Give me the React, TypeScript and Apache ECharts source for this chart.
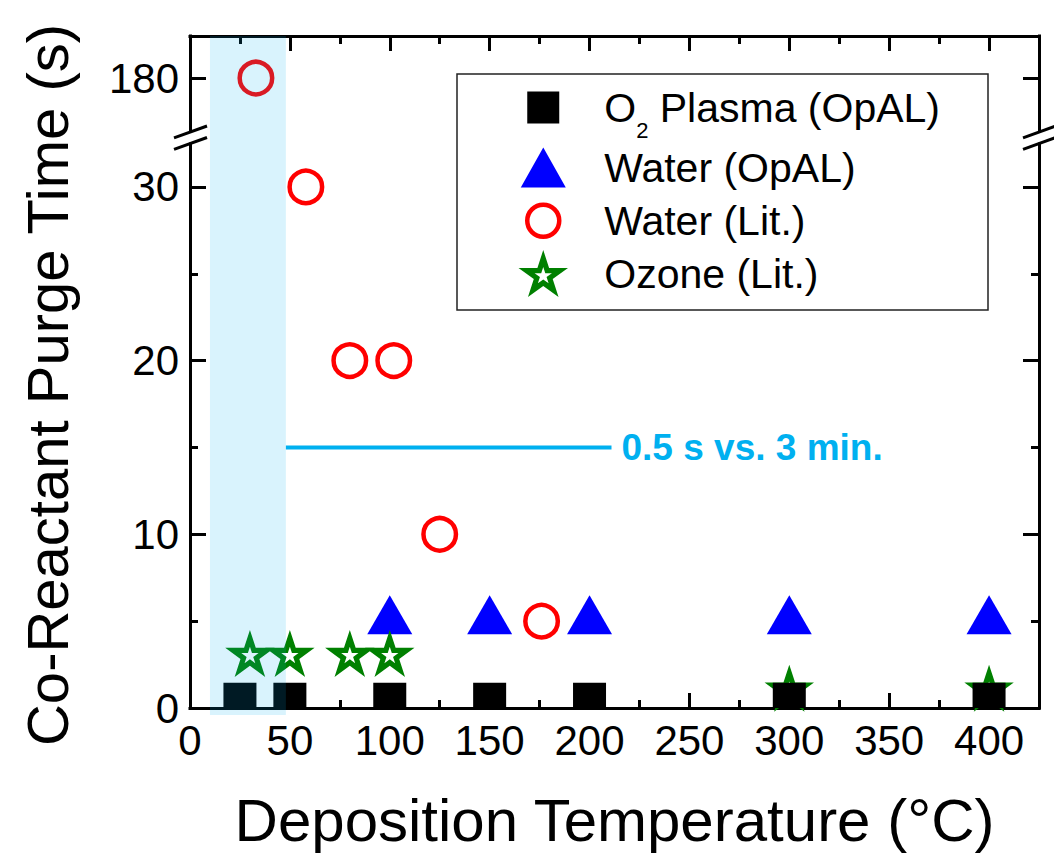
import React, { useEffect, useRef } from 'react';
import * as echarts from 'echarts';

const FONT = "'Liberation Sans', Arial, Helvetica, sans-serif";

// Deposition temperature (°C) vs. co-reactant purge time (s)
const o2PlasmaOpal: number[][] = [[25, 0.5], [50, 0.5], [100, 0.5], [150, 0.5], [200, 0.5], [300, 0.5], [400, 0.5]];
const waterOpal: number[][] = [[100, 5], [150, 5], [200, 5], [300, 5], [400, 5]];
const waterLitLow: number[][] = [[58, 30], [80, 20], [102, 20], [125, 10], [176, 5]];
const waterLitHigh: number[][] = [[33, 180]];
const ozoneLit: number[][] = [[30, 3], [50, 3], [80, 3], [100, 3], [300, 1], [400, 1]];

const NAME_O2 = 'O2 Plasma (OpAL)';
const NAME_WATER_OPAL = 'Water (OpAL)';
const NAME_WATER_LIT = 'Water (Lit.)';
const NAME_OZONE = 'Ozone (Lit.)';

// Tick positions
const xMajorTicks = [0, 50, 100, 150, 200, 250, 300, 350, 400];
const xMinorTicks = [25, 75, 125, 175, 225, 275, 325, 375];
const yMajorTicks = [0, 10, 20, 30];
const yMinorTicks = [5, 15, 25];
const yUpperTicks = [180];

// Axis extents (lower and upper parts of the broken y axis)
const X_MIN = 0;
const X_MAX = 425;
const Y_LOW_MIN = 0;
const Y_LOW_MAX = 32.47;
const Y_HIGH_MIN = 176.95;
const Y_HIGH_MAX = 182.42;

// Highlighted room-temperature window and the comparison callout
const windowRange = [10, 48];
const comparisonLine: number[][] = [[48, 15], [211, 15]];
const comparisonText = '0.5 s vs. 3 min.';

const CYAN = '#00b0f0';

function starPath(cx: number, cy: number, R: number, hole: number): string {
  const pts = (scale: number) => {
    const out: number[][] = [];
    for (let k = 0; k < 10; k++) {
      const ang = ((-90 + 36 * k) * Math.PI) / 180;
      const r = (k % 2 === 0 ? R : R * 0.382) * scale;
      out.push([cx + r * Math.cos(ang), cy + r * Math.sin(ang)]);
    }
    return out;
  };
  const toD = (p: number[][]) =>
    'M' + p.map((q) => q[0].toFixed(2) + ',' + q[1].toFixed(2)).join('L') + 'Z';
  return toD(pts(1)) + toD(pts(hole).reverse());
}

const STAR_SYMBOL = 'path://M0,100' + starPath(0, 0, 100, 0.35);
const STAR_SIZE = [190.2 * 0.26, 200 * 0.26];
const SQUARE = 33;

const LEG_PAD = 'M0,0M112,50';
const legendSquare = `path://${LEG_PAD}M40,9L72,9L72,41L40,41Z`;
const legendTriangle = `path://${LEG_PAD}M56,5L78.5,45L33.5,45Z`;
const legendCircle = `path://${LEG_PAD}M40,25A16,16,0,1,1,72,25A16,16,0,1,1,40,25Z`;
const legendStar = `path://${LEG_PAD}` + starPath(56, 27, 26, 0.35);

const tickStyle = { color: '#000', width: 3 };
const lineOn = { show: true, onZero: false, lineStyle: { color: '#000', width: 3, cap: 'square' } };
const lineOff = { show: false, onZero: false };
const labelStyle = { fontSize: 42, color: '#000', fontFamily: FONT };

function axis(extra: Record<string, unknown>) {
  return {
    type: 'value',
    splitLine: { show: false },
    minorTick: { show: false },
    minorSplitLine: { show: false },
    nameMoveOverlap: false,
    ...extra,
  };
}

function ticks(values: number[], length: number) {
  return { show: true, inside: true, length, customValues: values, lineStyle: tickStyle };
}

function buildOption() {
  const xRange = { min: X_MIN, max: X_MAX };
  const yLow = { min: Y_LOW_MIN, max: Y_LOW_MAX };
  const yHigh = { min: Y_HIGH_MIN, max: Y_HIGH_MAX };

  return {
    animation: false,
    backgroundColor: '#fff',
    grid: [
      { left: 190, right: 15, top: 144, bottom: 147, outerBoundsMode: 'none', containLabel: false },
      { left: 190, right: 15, top: 36, bottom: 724, outerBoundsMode: 'none', containLabel: false },
    ],
    xAxis: [
      axis({
        gridIndex: 0, position: 'bottom', ...xRange, axisLine: lineOn,
        axisTick: ticks(xMajorTicks, 15),
        axisLabel: { show: true, customValues: xMajorTicks, margin: 11, ...labelStyle },
        name: 'Deposition Temperature (°C)', nameLocation: 'middle', nameGap: 82,
        nameTextStyle: { fontSize: 60, color: '#000', fontFamily: FONT },
      }),
      axis({ gridIndex: 0, position: 'bottom', ...xRange, axisLine: lineOff, axisTick: ticks(xMinorTicks, 8), axisLabel: { show: false } }),
      axis({ gridIndex: 1, position: 'top', ...xRange, axisLine: lineOn, axisTick: ticks(xMajorTicks, 15), axisLabel: { show: false } }),
      axis({ gridIndex: 1, position: 'top', ...xRange, axisLine: lineOff, axisTick: ticks(xMinorTicks, 8), axisLabel: { show: false } }),
    ],
    yAxis: [
      axis({
        gridIndex: 0, position: 'left', ...yLow, axisLine: lineOn,
        axisTick: ticks(yMajorTicks, 16),
        axisLabel: { show: true, customValues: yMajorTicks, margin: 11, ...labelStyle },
      }),
      axis({ gridIndex: 0, position: 'left', ...yLow, axisLine: lineOff, axisTick: ticks(yMinorTicks, 8), axisLabel: { show: false } }),
      axis({ gridIndex: 0, position: 'right', ...yLow, axisLine: lineOn, axisTick: ticks(yMajorTicks, 16), axisLabel: { show: false } }),
      axis({ gridIndex: 0, position: 'right', ...yLow, axisLine: lineOff, axisTick: ticks(yMinorTicks, 8), axisLabel: { show: false } }),
      axis({
        gridIndex: 1, position: 'left', ...yHigh, axisLine: lineOn,
        axisTick: ticks(yUpperTicks, 16),
        axisLabel: { show: true, customValues: yUpperTicks, margin: 11, ...labelStyle },
      }),
      axis({ gridIndex: 1, position: 'right', ...yHigh, axisLine: lineOn, axisTick: ticks(yUpperTicks, 16), axisLabel: { show: false } }),
    ],
    legend: {
      orient: 'vertical',
      left: 485,
      top: 82.5,
      padding: 0,
      itemWidth: 112,
      itemHeight: 50,
      itemGap: 1,
      selectedMode: false,
      data: [
        { name: NAME_O2, icon: legendSquare, itemStyle: { borderWidth: 0, opacity: 1 } },
        { name: NAME_WATER_OPAL, icon: legendTriangle, itemStyle: { borderWidth: 0, opacity: 1 } },
        { name: NAME_WATER_LIT, icon: legendCircle, itemStyle: { color: '#fff', borderColor: '#ff0000', borderWidth: 4.5, opacity: 1 } },
        { name: NAME_OZONE, icon: legendStar, itemStyle: { borderWidth: 0, opacity: 1 } },
      ],
      formatter: (name: string) =>
        name === NAME_O2 ? '{b|O}{s|2}{b| Plasma (OpAL)}' : `{b|${name}}`,
      textStyle: {
        fontSize: 41,
        fontFamily: FONT,
        color: '#000',
        lineHeight: 50,
        rich: {
          b: { fontSize: 41, lineHeight: 50, fontFamily: FONT, color: '#000' },
          // subscript: shifted down below the baseline by uneven padding
          s: { fontSize: 22, lineHeight: 22, padding: [23, 0, -23, 0], fontFamily: FONT, color: '#000' },
        },
      },
    },
    series: [
      {
        name: NAME_WATER_OPAL,
        type: 'scatter',
        xAxisIndex: 0,
        yAxisIndex: 0,
        data: waterOpal,
        symbol: 'triangle',
        symbolSize: [45, 39],
        symbolOffset: [0, -6.5],
        itemStyle: { color: '#0000ff', opacity: 1 },
        z: 2,
      },
      {
        name: NAME_WATER_LIT,
        type: 'scatter',
        xAxisIndex: 0,
        yAxisIndex: 0,
        data: waterLitLow,
        symbol: 'circle',
        symbolSize: 32.5,
        itemStyle: { color: '#fff', borderColor: '#ff0000', borderWidth: 4.5, opacity: 1 },
        z: 2,
      },
      {
        name: NAME_WATER_LIT,
        type: 'scatter',
        xAxisIndex: 2,
        yAxisIndex: 4,
        data: waterLitHigh,
        symbol: 'circle',
        symbolSize: 32.5,
        itemStyle: { color: '#fff', borderColor: '#ff0000', borderWidth: 4.5, opacity: 1 },
        z: 2,
      },
      {
        name: NAME_OZONE,
        type: 'scatter',
        xAxisIndex: 0,
        yAxisIndex: 0,
        data: ozoneLit,
        symbol: STAR_SYMBOL,
        symbolSize: STAR_SIZE,
        itemStyle: { color: '#008000', borderWidth: 0, opacity: 1 },
        z: 2,
      },
      {
        name: NAME_O2,
        type: 'custom',
        xAxisIndex: 0,
        yAxisIndex: 0,
        data: o2PlasmaOpal,
        encode: { x: 0, y: 1 },
        itemStyle: { color: '#000' },
        z: 3,
        renderItem: (params: any, api: any) => {
          const p = api.coord([api.value(0), api.value(1)]);
          const cs = params.coordSys;
          const shape = echarts.graphic.clipRectByRect(
            { x: p[0] - SQUARE / 2, y: p[1] - SQUARE / 2, width: SQUARE, height: SQUARE },
            { x: cs.x, y: cs.y, width: cs.width, height: cs.height }
          );
          if (!shape) return null;
          return { type: 'rect', shape, style: { fill: api.visual('color') } };
        },
      },
      {
        name: 'comparison',
        type: 'line',
        xAxisIndex: 0,
        yAxisIndex: 0,
        data: comparisonLine,
        symbol: 'none',
        silent: true,
        lineStyle: { color: CYAN, width: 4 },
        endLabel: {
          show: true,
          formatter: comparisonText,
          distance: 10,
          fontSize: 37,
          fontWeight: 'bold',
          color: CYAN,
          fontFamily: FONT,
        },
        z: 2,
      },
    ],
  };
}

export default function App() {
  const ref = useRef<HTMLDivElement>(null);

  useEffect(() => {
    if (!ref.current) return;
    const chart = echarts.init(ref.current, null, { renderer: 'svg' });
    chart.setOption(buildOption() as any);

    const px = (axisKey: string, index: number, v: number) =>
      chart.convertToPixel({ [axisKey]: index } as any, v) as unknown as number;

    const xL = px('xAxisIndex', 0, X_MIN);
    const xR = px('xAxisIndex', 0, X_MAX);
    const shadeX0 = px('xAxisIndex', 0, windowRange[0]);
    const shadeX1 = px('xAxisIndex', 0, windowRange[1]);
    const yBottom = px('yAxisIndex', 0, Y_LOW_MIN);
    const yLowTop = px('yAxisIndex', 0, Y_LOW_MAX);
    const yHighBottom = px('yAxisIndex', 4, Y_HIGH_MIN);
    const yTop = px('yAxisIndex', 4, Y_HIGH_MAX);

    const breakLines: any[] = [];
    [xL, xR].forEach((x) => {
      [yHighBottom + 1, yLowTop - 0.5].forEach((y) => {
        breakLines.push({
          type: 'line',
          shape: { x1: x - 16, y1: y + 5.8, x2: x + 17, y2: y - 6 },
          style: { stroke: '#000', lineWidth: 3 },
          z: 50,
        });
      });
    });

    chart.setOption({
      graphic: [
        {
          type: 'rect',
          shape: { x: shadeX0, y: yTop, width: shadeX1 - shadeX0, height: yBottom + 7 - yTop },
          style: { fill: 'rgba(0,176,240,0.15)' },
          silent: true,
          z: 100,
        },
        {
          type: 'rect',
          shape: { x: 457, y: 74, width: 531, height: 236 },
          style: { fill: 'none', stroke: '#222', lineWidth: 1.5 },
          silent: true,
          z: 1,
        },
        ...breakLines,
        {
          type: 'text',
          x: 47,
          y: 385,
          rotation: Math.PI / 2,
          style: {
            text: 'Co-Reactant Purge Time (s)',
            font: `58px ${FONT}`,
            fill: '#000',
            align: 'center',
            verticalAlign: 'middle',
            textAlign: 'center',
            textVerticalAlign: 'middle',
          },
          z: 10,
        },
      ],
    } as any);

    return () => chart.dispose();
  }, []);

  return (
    <div
      ref={ref}
      style={{ position: 'absolute', left: 0, top: 0, width: 1054, height: 855 }}
    />
  );
}
